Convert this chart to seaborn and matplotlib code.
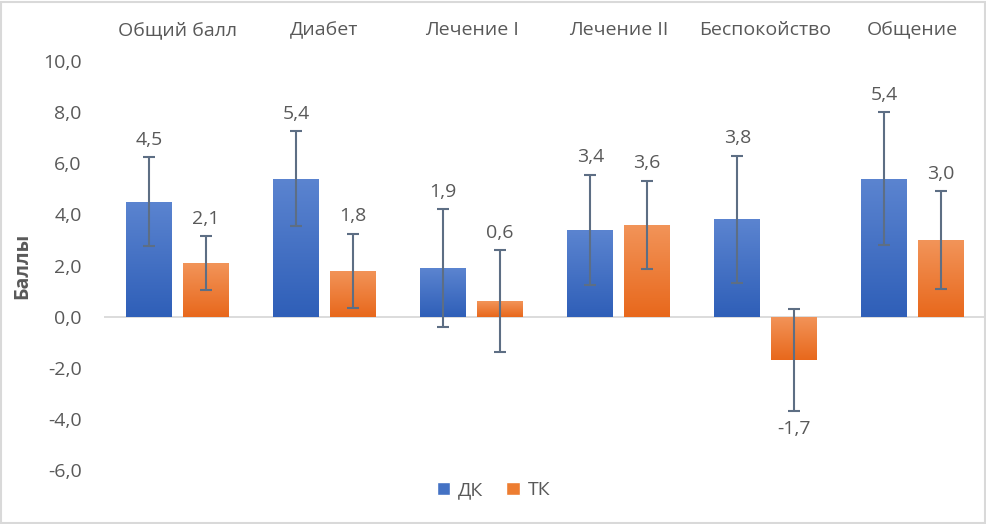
import numpy as np
import pandas as pd
import seaborn as sns
import matplotlib.pyplot as plt
from matplotlib.patches import Patch, Rectangle
from matplotlib.colors import LinearSegmentedColormap
from matplotlib.ticker import FuncFormatter

categories = ["Общий балл", "Диабет", "Лечение I", "Лечение II", "Беспокойство", "Общение"]
groups = ["ДК", "ТК"]
dk_values = [4.5, 5.4, 1.9, 3.4, 3.8, 5.4]
tk_values = [2.1, 1.8, 0.6, 3.6, -1.7, 3.0]
dk_err = [1.75, 1.85, 2.3, 2.15, 2.5, 2.6]
tk_err = [1.05, 1.45, 2.0, 1.72, 2.0, 1.92]

df = pd.DataFrame({
    "cat": categories * 2,
    "group": [groups[0]] * len(categories) + [groups[1]] * len(categories),
    "val": dk_values + tk_values,
})

sns.set_style("white")
plt.rcParams["font.family"] = ["Open Sans", "DejaVu Sans"]
text_color = "#595959"
fs = 14

fig = plt.figure(figsize=(9.87, 5.24), dpi=100)
ax = fig.add_axes([0.1054, 0.103, 0.8936, 0.7806])

colors = {"ДК": "#4472C4", "ТК": "#ED7D31"}
sns.barplot(data=df, x="cat", y="val", hue="group", order=categories, hue_order=groups,
            palette=colors, width=0.77, gap=0.19, errorbar=None, legend=False, ax=ax)

grads = [("#5B84D0", "#2F5FB8"), ("#F29459", "#E8681C")]
errs = [dk_err, tk_err]
vals = [dk_values, tk_values]
bar_containers = list(ax.containers)
for ci, cont in enumerate(bar_containers):
    cmap = LinearSegmentedColormap.from_list("g", [grads[ci][1], grads[ci][0]])
    for bi, bar in enumerate(cont):
        x0, y0 = bar.get_x(), bar.get_y()
        w, h = bar.get_width(), bar.get_height()
        bar.set_facecolor("none")
        bar.set_edgecolor("none")
        lo, hi = min(y0, y0 + h), max(y0, y0 + h)
        grad = np.linspace(0, 1, 100).reshape(-1, 1)
        im = ax.imshow(grad, extent=[x0, x0 + w, lo, hi], origin="lower",
                       aspect="auto", cmap=cmap, zorder=2)
        im.set_clip_path(bar)
        xc = x0 + w / 2
        v = vals[ci][bi]
        e = errs[ci][bi]
        ax.errorbar(xc, v, yerr=e, color="#5D6E84", lw=1.5, capsize=4.5,
                    capthick=1.5, zorder=3)
        label = f"{v:.1f}".replace(".", ",")
        if v >= 0:
            ax.annotate(label, (xc, v + e), xytext=(0, 6), textcoords="offset points",
                        ha="center", va="bottom", fontsize=fs, color=text_color)
        else:
            ax.annotate(label, (xc, v - e), xytext=(0, -6), textcoords="offset points",
                        ha="center", va="top", fontsize=fs, color=text_color)

ax.set_xlim(-0.5, len(categories) - 0.5)
ax.set_ylim(-6, 10)
ax.set_yticks(np.arange(-6, 10.1, 2))
ax.yaxis.set_major_formatter(FuncFormatter(lambda v, p: f"{v:.1f}".replace(".", ",")))
ax.axhline(0, color="#D9D9D9", lw=1.3, zorder=1)

ax.xaxis.tick_top()
ax.tick_params(axis="x", length=0, pad=16, labelsize=fs, labelcolor=text_color)
ax.tick_params(axis="y", length=0, pad=16, labelsize=fs, labelcolor=text_color)
ax.set_xlabel("")
ax.set_ylabel("Баллы", fontsize=fs, fontweight="bold", color=text_color, labelpad=8)
for s in ax.spines.values():
    s.set_visible(False)

handles = [Patch(facecolor=colors[g], label=g) for g in groups]
fig.legend(handles=handles, loc="center", bbox_to_anchor=(0.5, 0.064), ncol=2,
           frameon=False, handlelength=0.7, handleheight=0.7, handletextpad=0.4,
           columnspacing=1.2, fontsize=fs, labelcolor=text_color)

fig.patches.append(Rectangle((0.001, 0.002), 0.997, 0.995, transform=fig.transFigure,
                             fill=False, edgecolor="#D9D9D9", lw=1.5))

fig.savefig("out.png", dpi=100)
